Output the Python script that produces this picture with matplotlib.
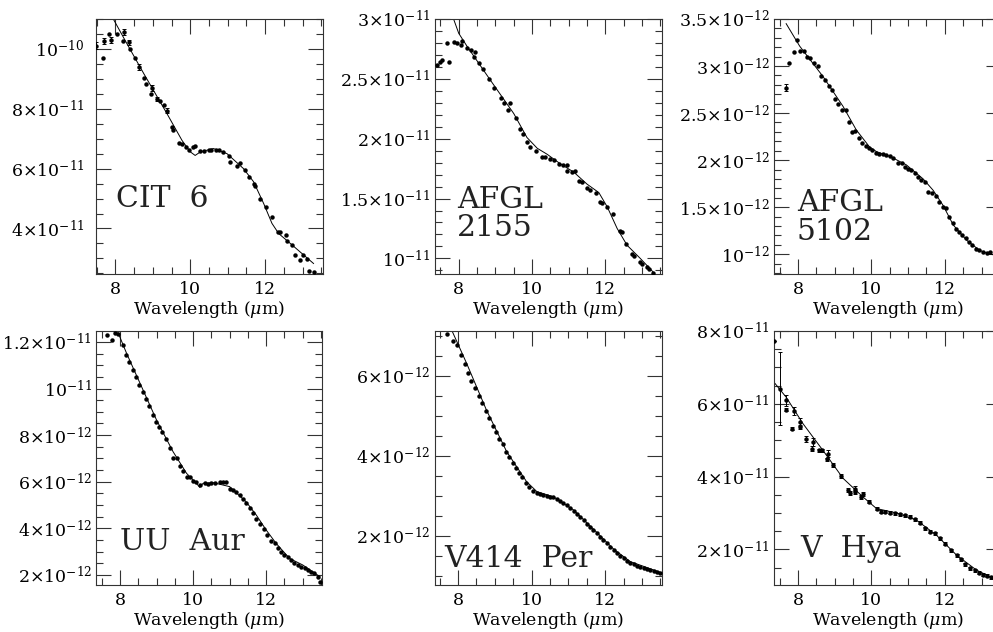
import numpy as np
import matplotlib.pyplot as plt
from matplotlib.ticker import MultipleLocator, FuncFormatter

plt.rcParams['font.family'] = ['DejaVu Serif']
plt.rcParams['mathtext.fontset'] = 'dejavuserif'

# ---- CIT 6 (flux in 1e-11) ----
cit6_wl = [7.49, 7.69, 7.66, 7.82, 7.87, 8.03, 8.24, 8.20, 8.36, 8.40, 8.53, 8.62, 8.77, 8.82, 8.98,
           8.95, 9.11, 9.18, 9.31, 9.38, 9.51, 9.54, 9.71, 9.78, 9.89, 9.96, 10.06, 10.13, 10.25, 10.36,
           10.49, 10.56, 10.69, 10.76, 10.87, 11.02, 11.07, 11.24, 11.32, 11.47, 11.56, 11.71, 11.73, 11.87, 12.03,
           12.18, 12.34, 12.40, 12.56, 12.58, 12.71, 12.80, 12.92, 13.00, 13.11, 13.16, 13.29]
cit6_flux = [10.11, 10.26, 9.70, 10.50, 10.30, 10.50, 10.58, 10.28, 10.22, 10.00, 9.70, 9.39, 9.03, 8.83, 8.70,
             8.50, 8.33, 8.26, 8.11, 7.94, 7.39, 7.30, 6.86, 6.83, 6.72, 6.63, 6.72, 6.76, 6.58, 6.59,
             6.61, 6.63, 6.61, 6.63, 6.56, 6.41, 6.22, 6.09, 6.20, 5.94, 5.72, 5.50, 5.41, 5.00, 4.72,
             4.39, 3.89, 3.89, 3.78, 3.58, 3.44, 3.11, 2.94, 3.11, 2.97, 2.59, 2.56]
cit6_err_wl = [7.49, 7.69, 7.87, 8.24, 8.36, 8.62, 8.98, 9.11, 9.38]
cit6_err_flux = [10.11, 10.26, 10.30, 10.58, 10.22, 9.39, 8.70, 8.33, 7.94]
cit6_err = [0.12, 0.10, 0.10, 0.10, 0.08, 0.10, 0.10, 0.07, 0.08]
cit6_model_wl = [7.90, 8.31, 8.76, 9.38, 9.78, 10.00, 10.13, 10.27, 10.62, 10.98, 11.42, 11.69, 11.96,
                 12.18, 12.36, 12.67, 13.29]
cit6_model = [11.10, 10.17, 9.17, 7.83, 6.94, 6.56, 6.44, 6.56, 6.67, 6.50, 6.00, 5.56, 4.83,
              4.17, 3.83, 3.50, 2.83]

# ---- AFGL 2155 (flux in 1e-11) ----
a2155_wl = [7.41, 7.50, 7.55, 7.73, 7.68, 7.86, 7.95, 8.06, 8.09, 8.23, 8.34, 8.44, 8.41, 8.55, 8.66,
            8.82, 8.97, 9.14, 9.23, 9.39, 9.35, 9.55, 9.68, 9.75, 9.86, 9.95, 10.12, 10.27, 10.36, 10.50,
            10.59, 10.73, 10.85, 10.94, 10.95, 11.09, 11.18, 11.27, 11.36, 11.50, 11.59, 11.73, 11.86, 11.91, 12.05,
            12.21, 12.39, 12.45, 12.57, 12.73, 12.77, 12.95, 13.00, 13.14, 13.18, 13.30]
a2155_flux = [2.615, 2.64, 2.66, 2.64, 2.80, 2.81, 2.80, 2.78, 2.82, 2.76, 2.74, 2.72, 2.68, 2.63, 2.58,
              2.50, 2.42, 2.34, 2.30, 2.30, 2.24, 2.17, 2.08, 2.04, 1.97, 1.93, 1.90, 1.85, 1.85, 1.83,
              1.82, 1.79, 1.78, 1.78, 1.73, 1.72, 1.73, 1.65, 1.64, 1.59, 1.57, 1.55, 1.47, 1.46, 1.43,
              1.37, 1.23, 1.22, 1.12, 1.04, 1.02, 0.97, 0.95, 0.925, 0.91, 0.88]
a2155_model_wl = [7.80, 8.00, 8.23, 8.86, 9.50, 9.86, 10.14, 10.41, 10.77, 11.14, 11.50, 11.82, 12.05,
                  12.32, 12.59, 12.95, 13.32]
a2155_model = [3.05, 2.88, 2.77, 2.49, 2.21, 2.01, 1.92, 1.87, 1.79, 1.72, 1.62, 1.55, 1.43,
               1.25, 1.11, 1.00, 0.88]

# ---- AFGL 5102 (flux in 1e-12) ----
a5102_wl = [7.68, 7.77, 7.88, 7.97, 8.07, 8.16, 8.25, 8.34, 8.45, 8.55, 8.62, 8.73, 8.85, 8.94, 9.02, 9.09,
            9.21, 9.30, 9.38, 9.47, 9.56, 9.65, 9.75, 9.84, 9.93, 10.03, 10.12, 10.21, 10.32, 10.41, 10.50,
            10.59, 10.73, 10.82, 10.91, 11.00, 11.09, 11.18, 11.27, 11.36, 11.45, 11.55, 11.64, 11.75, 11.85, 11.94,
            12.03, 12.12, 12.21, 12.30, 12.39, 12.48, 12.57, 12.66, 12.75, 12.85, 12.94, 13.03, 13.14, 13.23]
a5102_flux = [2.77, 3.035, 3.15, 3.28, 3.16, 3.16, 3.10, 3.08, 3.03, 3.00, 2.89, 2.85, 2.79, 2.74, 2.65, 2.60,
              2.53, 2.53, 2.40, 2.30, 2.31, 2.24, 2.18, 2.15, 2.13, 2.11, 2.08, 2.06, 2.07, 2.05, 2.04,
              2.02, 1.97, 1.97, 1.93, 1.91, 1.89, 1.86, 1.82, 1.79, 1.77, 1.66, 1.65, 1.62, 1.55, 1.50,
              1.49, 1.40, 1.33, 1.27, 1.24, 1.20, 1.17, 1.13, 1.10, 1.06, 1.04, 1.02, 1.01, 1.02]
a5102_err_wl = [7.68]
a5102_err_flux = [2.77]
a5102_err = [0.035]
a5102_model_wl = [7.68, 8.05, 8.68, 9.23, 9.59, 9.95, 10.14, 10.50, 10.95, 11.41, 11.68, 11.95, 12.23,
                  12.59, 12.95, 13.23, 13.55]
a5102_model = [3.45, 3.21, 2.89, 2.57, 2.32, 2.14, 2.09, 2.04, 1.95, 1.80, 1.68, 1.52, 1.31,
               1.15, 1.04, 1.00, 0.98]

# ---- UU Aur (flux in 1e-12) ----
uuaur_wl = [7.65, 7.77, 7.86, 7.95, 8.07, 8.16, 8.25, 8.34, 8.43, 8.52, 8.62, 8.70, 8.79, 8.89, 8.98,
            9.07, 9.16, 9.27, 9.36, 9.45, 9.55, 9.64, 9.73, 9.82, 9.91, 10.00, 10.09, 10.18, 10.32, 10.41,
            10.50, 10.59, 10.73, 10.82, 10.91, 11.00, 11.09, 11.18, 11.27, 11.36, 11.45, 11.55, 11.64, 11.73, 11.84,
            11.94, 12.03, 12.12, 12.23, 12.32, 12.41, 12.50, 12.59, 12.68, 12.77, 12.86, 12.95, 13.05, 13.14, 13.23,
            13.32, 13.41, 13.47]
uuaur_flux = [12.29, 12.10, 12.39, 12.36, 11.86, 11.43, 11.14, 10.81, 10.50, 10.14, 9.86, 9.57, 9.26, 8.86, 8.57,
              8.33, 8.14, 7.83, 7.43, 7.04, 7.00, 6.67, 6.47, 6.21, 6.21, 6.04, 5.97, 5.86, 5.93, 5.89,
              5.96, 5.96, 5.97, 5.97, 5.97, 5.71, 5.64, 5.54, 5.43, 5.24, 5.07, 4.86, 4.64, 4.39, 4.19,
              3.96, 3.71, 3.47, 3.36, 3.14, 2.97, 2.86, 2.76, 2.64, 2.50, 2.43, 2.36, 2.29, 2.21, 2.14,
              2.07, 1.93, 1.71]
uuaur_model_wl = [7.93, 8.18, 8.55, 9.00, 9.45, 9.82, 10.09, 10.18, 10.27, 10.55, 11.00, 11.45, 11.73,
                  12.00, 12.27, 12.64, 13.00, 13.47]
uuaur_model = [12.45, 11.50, 10.21, 8.64, 7.29, 6.36, 5.93, 5.76, 5.93, 5.96, 5.79, 5.14, 4.57,
               3.93, 3.36, 2.71, 2.43, 1.93]

# ---- V414 Per (flux in 1e-12) ----
v414_wl = [7.70, 7.86, 7.97, 8.09, 8.18, 8.27, 8.36, 8.45, 8.57, 8.66, 8.75, 8.85, 8.94, 9.03, 9.12,
           9.21, 9.30, 9.39, 9.48, 9.57, 9.66, 9.75, 9.85, 9.94, 10.03, 10.14, 10.23, 10.32, 10.41, 10.50,
           10.59, 10.68, 10.77, 10.86, 10.95, 11.05, 11.14, 11.23, 11.32, 11.41, 11.50, 11.59, 11.68, 11.77, 11.86,
           11.95, 12.05, 12.14, 12.23, 12.32, 12.41, 12.50, 12.59, 12.68, 12.77, 12.86, 12.95, 13.05, 13.14, 13.23,
           13.32, 13.41, 13.50]
v414_flux = [7.05, 6.88, 6.78, 6.53, 6.30, 6.08, 5.88, 5.69, 5.50, 5.32, 5.13, 4.94, 4.75, 4.59, 4.43,
             4.29, 4.11, 3.97, 3.83, 3.69, 3.58, 3.47, 3.33, 3.23, 3.13, 3.08, 3.05, 3.03, 3.01, 2.98,
             2.98, 2.93, 2.88, 2.82, 2.78, 2.71, 2.63, 2.55, 2.48, 2.40, 2.30, 2.22, 2.15, 2.07, 1.98,
             1.90, 1.83, 1.73, 1.65, 1.58, 1.50, 1.44, 1.38, 1.33, 1.29, 1.26, 1.23, 1.21, 1.18, 1.15,
             1.13, 1.10, 1.08]
v414_model_wl = [7.80, 8.23, 8.77, 9.32, 9.86, 10.14, 10.59, 11.14, 11.68, 12.23, 12.68, 13.50]
v414_model = [7.20, 6.32, 5.15, 4.11, 3.36, 3.11, 2.98, 2.65, 2.17, 1.67, 1.36, 1.09]

# ---- V Hya (flux in 1e-11) ----
vhya_wl = [7.36, 7.50, 7.68, 7.68, 7.89, 7.85, 8.06, 8.05, 8.23, 8.41, 8.39, 8.57, 8.66, 8.79, 8.82,
           8.95, 9.16, 9.35, 9.41, 9.55, 9.56, 9.73, 9.77, 9.93, 10.14, 10.27, 10.36, 10.50, 10.64, 10.77,
           10.91, 11.05, 11.18, 11.32, 11.45, 11.59, 11.73, 11.86, 12.00, 12.18, 12.32, 12.45, 12.55, 12.68, 12.82,
           12.94, 13.05, 13.16, 13.27]
vhya_flux = [7.72, 6.41, 6.09, 5.84, 5.80, 5.32, 5.50, 5.36, 5.04, 4.95, 4.77, 4.72, 4.72, 4.47, 4.63,
             4.31, 4.02, 3.63, 3.55, 3.58, 3.67, 3.44, 3.52, 3.31, 3.12, 3.03, 3.03, 3.01, 2.99, 2.96,
             2.94, 2.89, 2.82, 2.73, 2.58, 2.48, 2.44, 2.30, 2.15, 1.98, 1.84, 1.73, 1.59, 1.48, 1.43,
             1.36, 1.30, 1.27, 1.23]
vhya_err = [0.0, 1.0, 0.15, 0.05, 0.10, 0.05, 0.12, 0.05, 0.08, 0.10, 0.06, 0.05, 0.05, 0.05, 0.10,
            0.06, 0.05, 0.06, 0.05, 0.06, 0.06, 0.05, 0.05, 0.05, 0.04, 0.04, 0.04, 0.04, 0.04, 0.04,
            0.04, 0.04, 0.04, 0.04, 0.04, 0.04, 0.04, 0.04, 0.04, 0.04, 0.04, 0.04, 0.04, 0.04, 0.04,
            0.04, 0.04, 0.04, 0.04]
vhya_model_wl = [7.35, 7.68, 8.14, 8.68, 9.23, 9.77, 10.14, 10.68, 11.23, 11.77, 12.32, 12.86, 13.27, 13.55]
vhya_model = [6.59, 6.18, 5.45, 4.72, 3.95, 3.44, 3.12, 3.00, 2.80, 2.39, 1.84, 1.43, 1.23, 1.12]


def sci_label(v, pos):
    if v <= 0:
        return ''
    e = int(np.floor(np.log10(v) + 1e-9))
    m = round(v / 10.0 ** e, 2)
    if abs(m - 1) < 1e-6:
        return r'$10^{%d}$' % e
    return r'$%g{\times}10^{%d}$' % (m, e)


# panel setup: name lines, data, scale, axes rect, limits, tick steps
panels = [
    dict(name=['CIT  6'], wl=cit6_wl, fl=cit6_flux, mwl=cit6_model_wl, mfl=cit6_model, s=1e-11,
         ewl=cit6_err_wl, efl=cit6_err_flux, err=cit6_err,
         rect=[0.0962, 0.5665, 0.2286, 0.4035], xlim=(7.47, 13.53), ylim=(2.48, 11.0),
         major=2, minor=0.5, txt=(0.088, 0.263), pad=8),
    dict(name=['AFGL', '2155'], wl=a2155_wl, fl=a2155_flux, mwl=a2155_model_wl, mfl=a2155_model, s=1e-11,
         rect=[0.4376, 0.5665, 0.2286, 0.4035], xlim=(7.34, 13.53), ylim=(0.87, 3.0),
         major=0.5, minor=0.1, txt=(0.10, 0.258), pad=3),
    dict(name=['AFGL', '5102'], wl=a5102_wl, fl=a5102_flux, mwl=a5102_model_wl, mfl=a5102_model, s=1e-12,
         ewl=a5102_err_wl, efl=a5102_err_flux, err=a5102_err,
         rect=[0.7795, 0.5665, 0.2286, 0.4035], xlim=(7.35, 13.53), ylim=(0.79, 3.5),
         major=0.5, minor=0.1, txt=(0.10, 0.245), pad=3),
    dict(name=['UU  Aur'], wl=uuaur_wl, fl=uuaur_flux, mwl=uuaur_model_wl, mfl=uuaur_model, s=1e-12,
         rect=[0.0967, 0.0744, 0.2276, 0.4019], xlim=(7.34, 13.53), ylim=(1.57, 12.47),
         major=2, minor=0.5, txt=(0.106, 0.138), pad=3),
    dict(name=['V414  Per'], wl=v414_wl, fl=v414_flux, mwl=v414_model_wl, mfl=v414_model, s=1e-12,
         rect=[0.4376, 0.0744, 0.2286, 0.4019], xlim=(7.36, 13.53), ylim=(0.775, 7.125),
         major=2, minor=0.5, txt=(0.041, 0.072), pad=3),
    dict(name=['V  Hya'], wl=vhya_wl, fl=vhya_flux, mwl=vhya_model_wl, mfl=vhya_model, s=1e-11,
         ewl=vhya_wl, efl=vhya_flux, err=vhya_err,
         rect=[0.7795, 0.0744, 0.2286, 0.4019], xlim=(7.35, 13.53), ylim=(1.02, 8.0),
         major=2, minor=0.5, txt=(0.115, 0.111), pad=3),
]

fig = plt.figure(figsize=(9.93, 6.32), dpi=100)

for p in panels:
    s = p['s']
    ax = fig.add_axes(p['rect'])
    ax.plot(np.array(p['mwl']), np.array(p['mfl']) * s, color='black', lw=0.7, zorder=2)
    ax.plot(np.array(p['wl']), np.array(p['fl']) * s, 'o', color='black', ms=3.2, mew=0, zorder=3)
    if 'err' in p:
        ax.errorbar(np.array(p['ewl']), np.array(p['efl']) * s, yerr=np.array(p['err']) * s,
                    fmt='none', ecolor='black', elinewidth=0.7, capsize=1.5, capthick=0.7, zorder=3)
    ax.set_xlim(*p['xlim'])
    ax.set_ylim(p['ylim'][0] * s, p['ylim'][1] * s)
    ax.xaxis.set_major_locator(MultipleLocator(2))
    ax.xaxis.set_minor_locator(MultipleLocator(0.5))
    ax.yaxis.set_major_locator(MultipleLocator(p['major'] * s))
    ax.yaxis.set_minor_locator(MultipleLocator(p['minor'] * s))
    ax.yaxis.set_major_formatter(FuncFormatter(sci_label))
    ax.tick_params(which='both', direction='in', top=True, right=True, width=0.8, color='#333333')
    ax.tick_params(which='major', length=10.5, labelsize=12.5)
    ax.tick_params(which='minor', length=5)
    ax.tick_params(axis='x', which='major', pad=5)
    ax.tick_params(axis='y', which='major', pad=p['pad'])
    for sp in ax.spines.values():
        sp.set_linewidth(0.8)
        sp.set_color('#333333')
    ax.set_xlabel(r'Wavelength ($\mu$m)', fontsize=12.5, labelpad=1)
    tx, ty = p['txt']
    for i, line in enumerate(p['name']):
        ax.text(tx, ty - 0.11 * i, line, transform=ax.transAxes, fontsize=21.5,
                ha='left', va='baseline', color='#222222')

fig.savefig('out.png', dpi=100)
